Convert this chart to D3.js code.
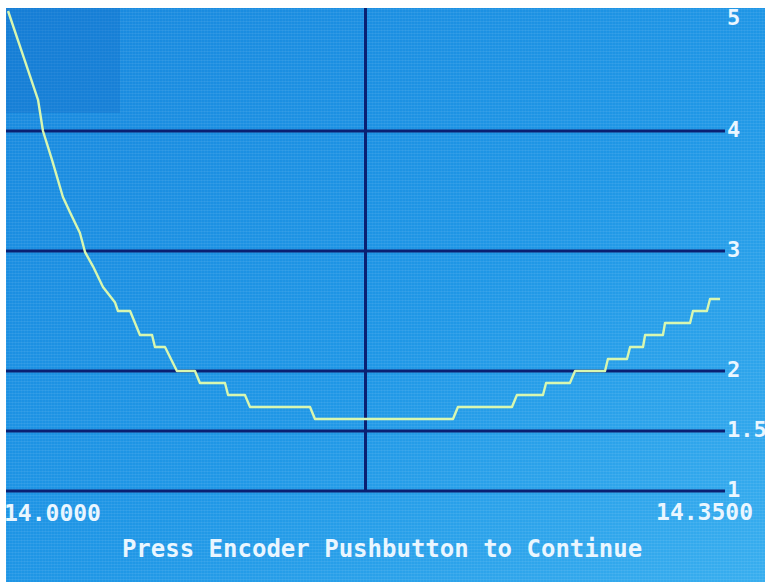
<!DOCTYPE html>
<html>
<head>
<meta charset="utf-8">
<script src="https://cdn.jsdelivr.net/npm/d3@7"></script>
<style>
	body {margin: 0; background: #ffffff;}
	.label {font-family: "DejaVu Sans Mono", monospace; fill: #eaf6ff; font-weight: bold;}
</style>
</head>
<body>
<div id="vis"></div>
<script>
const FRAME_WIDTH = 765;
const FRAME_HEIGHT = 582;
//screen edge; the photo leaves a white strip on the top and left
const SCREEN = {left: 6, top: 8};
const PLOT = {left: 6, right: 725, top: 11, bottom: 491};

//sweep values (frequency in MHz, SWR)
const FREQS = [14.0010, 14.0083, 14.0156, 14.0180, 14.0224, 14.0248, 14.0277, 14.0312,
	14.0360, 14.0385, 14.0424, 14.0472, 14.0531, 14.0545, 14.0604, 14.0652, 14.0711,
	14.0725, 14.0774, 14.0832, 14.0920, 14.0944, 14.1066, 14.1081, 14.1163, 14.1188,
	14.1480, 14.1504, 14.2176, 14.2200, 14.2463, 14.2487, 14.2614, 14.2629, 14.2745,
	14.2770, 14.2916, 14.2930, 14.3023, 14.3038, 14.3101, 14.3111, 14.3198, 14.3208,
	14.3330, 14.3344, 14.3412, 14.3427, 14.3476];
const SWR = [5.00, 4.63, 4.26, 4.00, 3.76, 3.62, 3.45, 3.32,
	3.15, 2.99, 2.87, 2.70, 2.57, 2.50, 2.50, 2.30, 2.30,
	2.20, 2.20, 2.00, 2.00, 1.90, 1.90, 1.80, 1.80, 1.70,
	1.70, 1.60, 1.60, 1.70, 1.70, 1.80, 1.80, 1.90, 1.90,
	2.00, 2.00, 2.10, 2.10, 2.20, 2.20, 2.30, 2.30, 2.40,
	2.40, 2.50, 2.50, 2.60, 2.60];

const FREQ_RANGE = [14.0, 14.35];
const X_LABELS = ["14.0000", "14.3500"];
const SWR_RANGE = [1, 5];
const GRID_LINES = [1, 1.5, 2, 3, 4];
const Y_LABELS = [1, 1.5, 2, 3, 4, 5];
const CENTER_LINES = [14.175];
const MESSAGE = "Press Encoder Pushbutton to Continue";

const X_SCALE = d3.scaleLinear()
	.domain(FREQ_RANGE)
	.range([PLOT.left, PLOT.right]);

const Y_SCALE = d3.scaleLinear()
	.domain(SWR_RANGE)
	.range([PLOT.bottom, PLOT.top]);

const FRAME = d3.select("#vis")
	.append("svg")
		.attr("width", FRAME_WIDTH)
		.attr("height", FRAME_HEIGHT);

//screen background, slightly darker at the top left like the photo
const defs = FRAME.append("defs");
const grad = defs.append("linearGradient")
	.attr("id", "screenGrad")
	.attr("x1", "0%").attr("y1", "0%")
	.attr("x2", "100%").attr("y2", "100%");
grad.append("stop").attr("offset", "0%").attr("stop-color", "#1888de");
grad.append("stop").attr("offset", "55%").attr("stop-color", "#1f97e6");
grad.append("stop").attr("offset", "100%").attr("stop-color", "#38aeef");

//faint lcd pixel rows
const pat = defs.append("pattern")
	.attr("id", "pixels")
	.attr("width", 3).attr("height", 3)
	.attr("patternUnits", "userSpaceOnUse");
pat.append("rect").attr("width", 3).attr("height", 1).attr("fill", "#ffffff").attr("opacity", 0.07);
pat.append("rect").attr("width", 1).attr("height", 3).attr("fill", "#ffffff").attr("opacity", 0.04);

FRAME.append("rect")
	.attr("x", SCREEN.left)
	.attr("y", SCREEN.top)
	.attr("width", FRAME_WIDTH - SCREEN.left)
	.attr("height", FRAME_HEIGHT - SCREEN.top)
	.attr("fill", "url(#screenGrad)");

FRAME.append("rect")
	.attr("x", SCREEN.left)
	.attr("y", SCREEN.top)
	.attr("width", FRAME_WIDTH - SCREEN.left)
	.attr("height", FRAME_HEIGHT - SCREEN.top)
	.attr("fill", "url(#pixels)");

//darker patch in the top left corner of the photo
FRAME.append("rect")
	.attr("x", SCREEN.left)
	.attr("y", SCREEN.top)
	.attr("width", 114)
	.attr("height", 105)
	.attr("fill", "#1268c4")
	.attr("opacity", 0.3);

//horizontal grid lines
FRAME.selectAll(".hgrid")
	.data(GRID_LINES)
	.enter()
	.append("line")
		.attr("class", "hgrid")
		.attr("x1", PLOT.left)
		.attr("x2", PLOT.right)
		.attr("y1", (d) => {return Y_SCALE(d);})
		.attr("y2", (d) => {return Y_SCALE(d);})
		.attr("stroke", "#0a2072")
		.attr("stroke-width", 3);

//centre frequency line
FRAME.selectAll(".vgrid")
	.data(CENTER_LINES)
	.enter()
	.append("line")
		.attr("class", "vgrid")
		.attr("x1", (d) => {return X_SCALE(d);})
		.attr("x2", (d) => {return X_SCALE(d);})
		.attr("y1", SCREEN.top)
		.attr("y2", Y_SCALE(SWR_RANGE[0]))
		.attr("stroke", "#0a2072")
		.attr("stroke-width", 3);

//swr trace
const points = FREQS.map((f, i) => {return {f: f, swr: SWR[i]};});
const line = d3.line()
	.x((d) => {return X_SCALE(d.f);})
	.y((d) => {return Y_SCALE(d.swr);});

FRAME.append("path")
	.datum(points)
	.attr("d", line)
	.attr("fill", "none")
	.attr("stroke", "#d8f7b0")
	.attr("stroke-width", 2.4)
	.attr("stroke-linejoin", "round");

//swr labels on the right (1.5 runs off the screen edge as in the photo)
FRAME.selectAll(".ylab")
	.data(Y_LABELS)
	.enter()
	.append("text")
		.attr("class", "label ylab")
		.attr("x", PLOT.right + 2)
		.attr("y", (d) => {return Math.max(Y_SCALE(d) + 6, 25);})
		.attr("font-size", "22px")
		.text((d) => {return d;});

//frequency labels
FRAME.append("text")
	.attr("class", "label")
	.attr("x", X_SCALE(FREQ_RANGE[0]) - 2)
	.attr("y", 521)
	.attr("font-size", "23px")
	.text(X_LABELS[0]);

FRAME.append("text")
	.attr("class", "label")
	.attr("x", X_SCALE(FREQ_RANGE[1]) + 28)
	.attr("y", 520)
	.attr("text-anchor", "end")
	.attr("font-size", "23px")
	.text(X_LABELS[1]);

FRAME.append("text")
	.attr("class", "label")
	.attr("x", 382)
	.attr("y", 557)
	.attr("text-anchor", "middle")
	.attr("font-size", "24px")
	.text(MESSAGE);
</script>
</body>
</html>
